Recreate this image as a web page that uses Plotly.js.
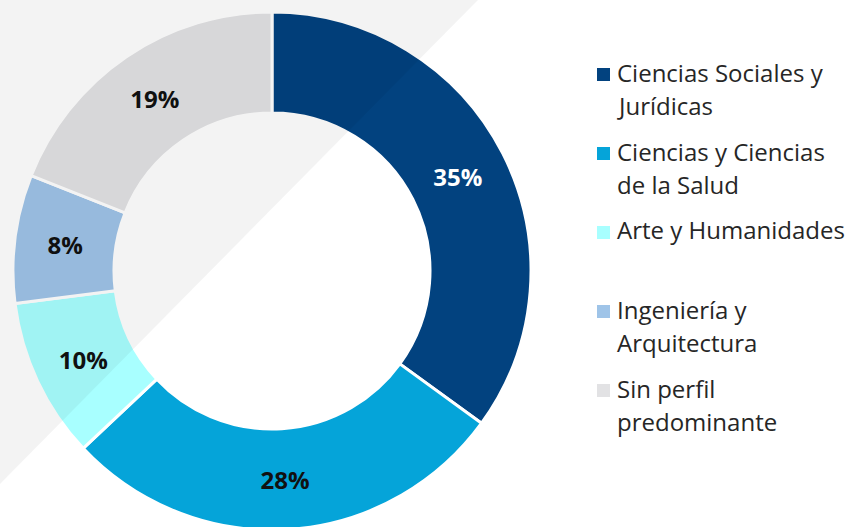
<!DOCTYPE html>
<html>
<head>
<meta charset="utf-8">
<script src="https://cdn.plot.ly/plotly-3.0.1.min.js"></script>
<style>
  html, body { margin: 0; padding: 0; background: #ffffff; overflow: hidden; }
  #chart { width: 856px; height: 540px; }
</style>
</head>
<body>
<div id="chart"></div>
<script>
// ---- data ----
const categories = [
  "Ciencias Sociales y Jurídicas",
  "Ciencias y Ciencias de la Salud",
  "Arte y Humanidades",
  "Ingeniería y Arquitectura",
  "Sin perfil predominante"
];
const legendLines = [
  ["Ciencias Sociales y", "Jurídicas"],
  ["Ciencias y Ciencias", "de la Salud"],
  ["Arte y Humanidades"],
  ["Ingeniería y", "Arquitectura"],
  ["Sin perfil", "predominante"]
];
const values = [35, 28, 10, 8, 19];
const colors = ["#02427F", "#05A4D9", "#A8FFFF", "#9FC4E8", "#E2E2E4"];
const labelColors = ["#FFFFFF", "#111111", "#111111", "#111111", "#111111"];

// ---- layout helpers (pixel -> paper) ----
const W = 856, H = 540;
const px = x => x / W;
const py = y => 1 - y / H;

const shapes = [];
const annotations = [];

// background diagonal overlay (drawn above, semi-transparent)
shapes.push({
  type: "path", xref: "paper", yref: "paper", layer: "above",
  path: `M ${px(0)},${py(0)} L ${px(478)},${py(0)} L ${px(0)},${py(484)} Z`,
  fillcolor: "rgba(0,0,0,0.047)", line: { width: 0 }
});

// custom legend
const legTop = 68, legStep = 79, lineStep = 33, sq = 13;
legendLines.forEach((lines, i) => {
  const yTop = legTop + i * legStep;
  shapes.push({
    type: "rect", xref: "paper", yref: "paper", layer: "above",
    x0: px(597), x1: px(597 + sq), y0: py(yTop), y1: py(yTop + sq),
    fillcolor: colors[i], line: { width: 0 }
  });
  lines.forEach((ln, j) => {
    annotations.push({
      xref: "paper", yref: "paper", x: px(615), y: py(yTop - 14.5 + j * lineStep),
      xanchor: "left", yanchor: "top", align: "left", showarrow: false,
      text: ln, font: { family: "Open Sans", size: 24, color: "#262626" }
    });
  });
});

const data = [{
  type: "pie",
  labels: categories,
  values: values,
  sort: false,
  direction: "clockwise",
  rotation: 0,
  hole: 0.61,
  marker: { colors: colors, line: { color: "#FFFFFF", width: 3 } },
  textinfo: "percent",
  texttemplate: "%{percent:.0%}",
  textposition: "inside",
  insidetextorientation: "horizontal",
  textfont: { family: "Open Sans", size: 24, weight: "bold", color: labelColors },
  domain: { x: [px(13), px(531)], y: [py(530), py(12)] },
  showlegend: false,
  hoverinfo: "label+percent"
}];

const layout = {
  width: W, height: H,
  margin: { l: 0, r: 0, t: 0, b: 0 },
  paper_bgcolor: "#FFFFFF",
  plot_bgcolor: "#FFFFFF",
  showlegend: false,
  shapes: shapes,
  annotations: annotations,
  font: { family: "Open Sans" }
};

Plotly.newPlot("chart", data, layout, { displayModeBar: false, staticPlot: true });
</script>
</body>
</html>
